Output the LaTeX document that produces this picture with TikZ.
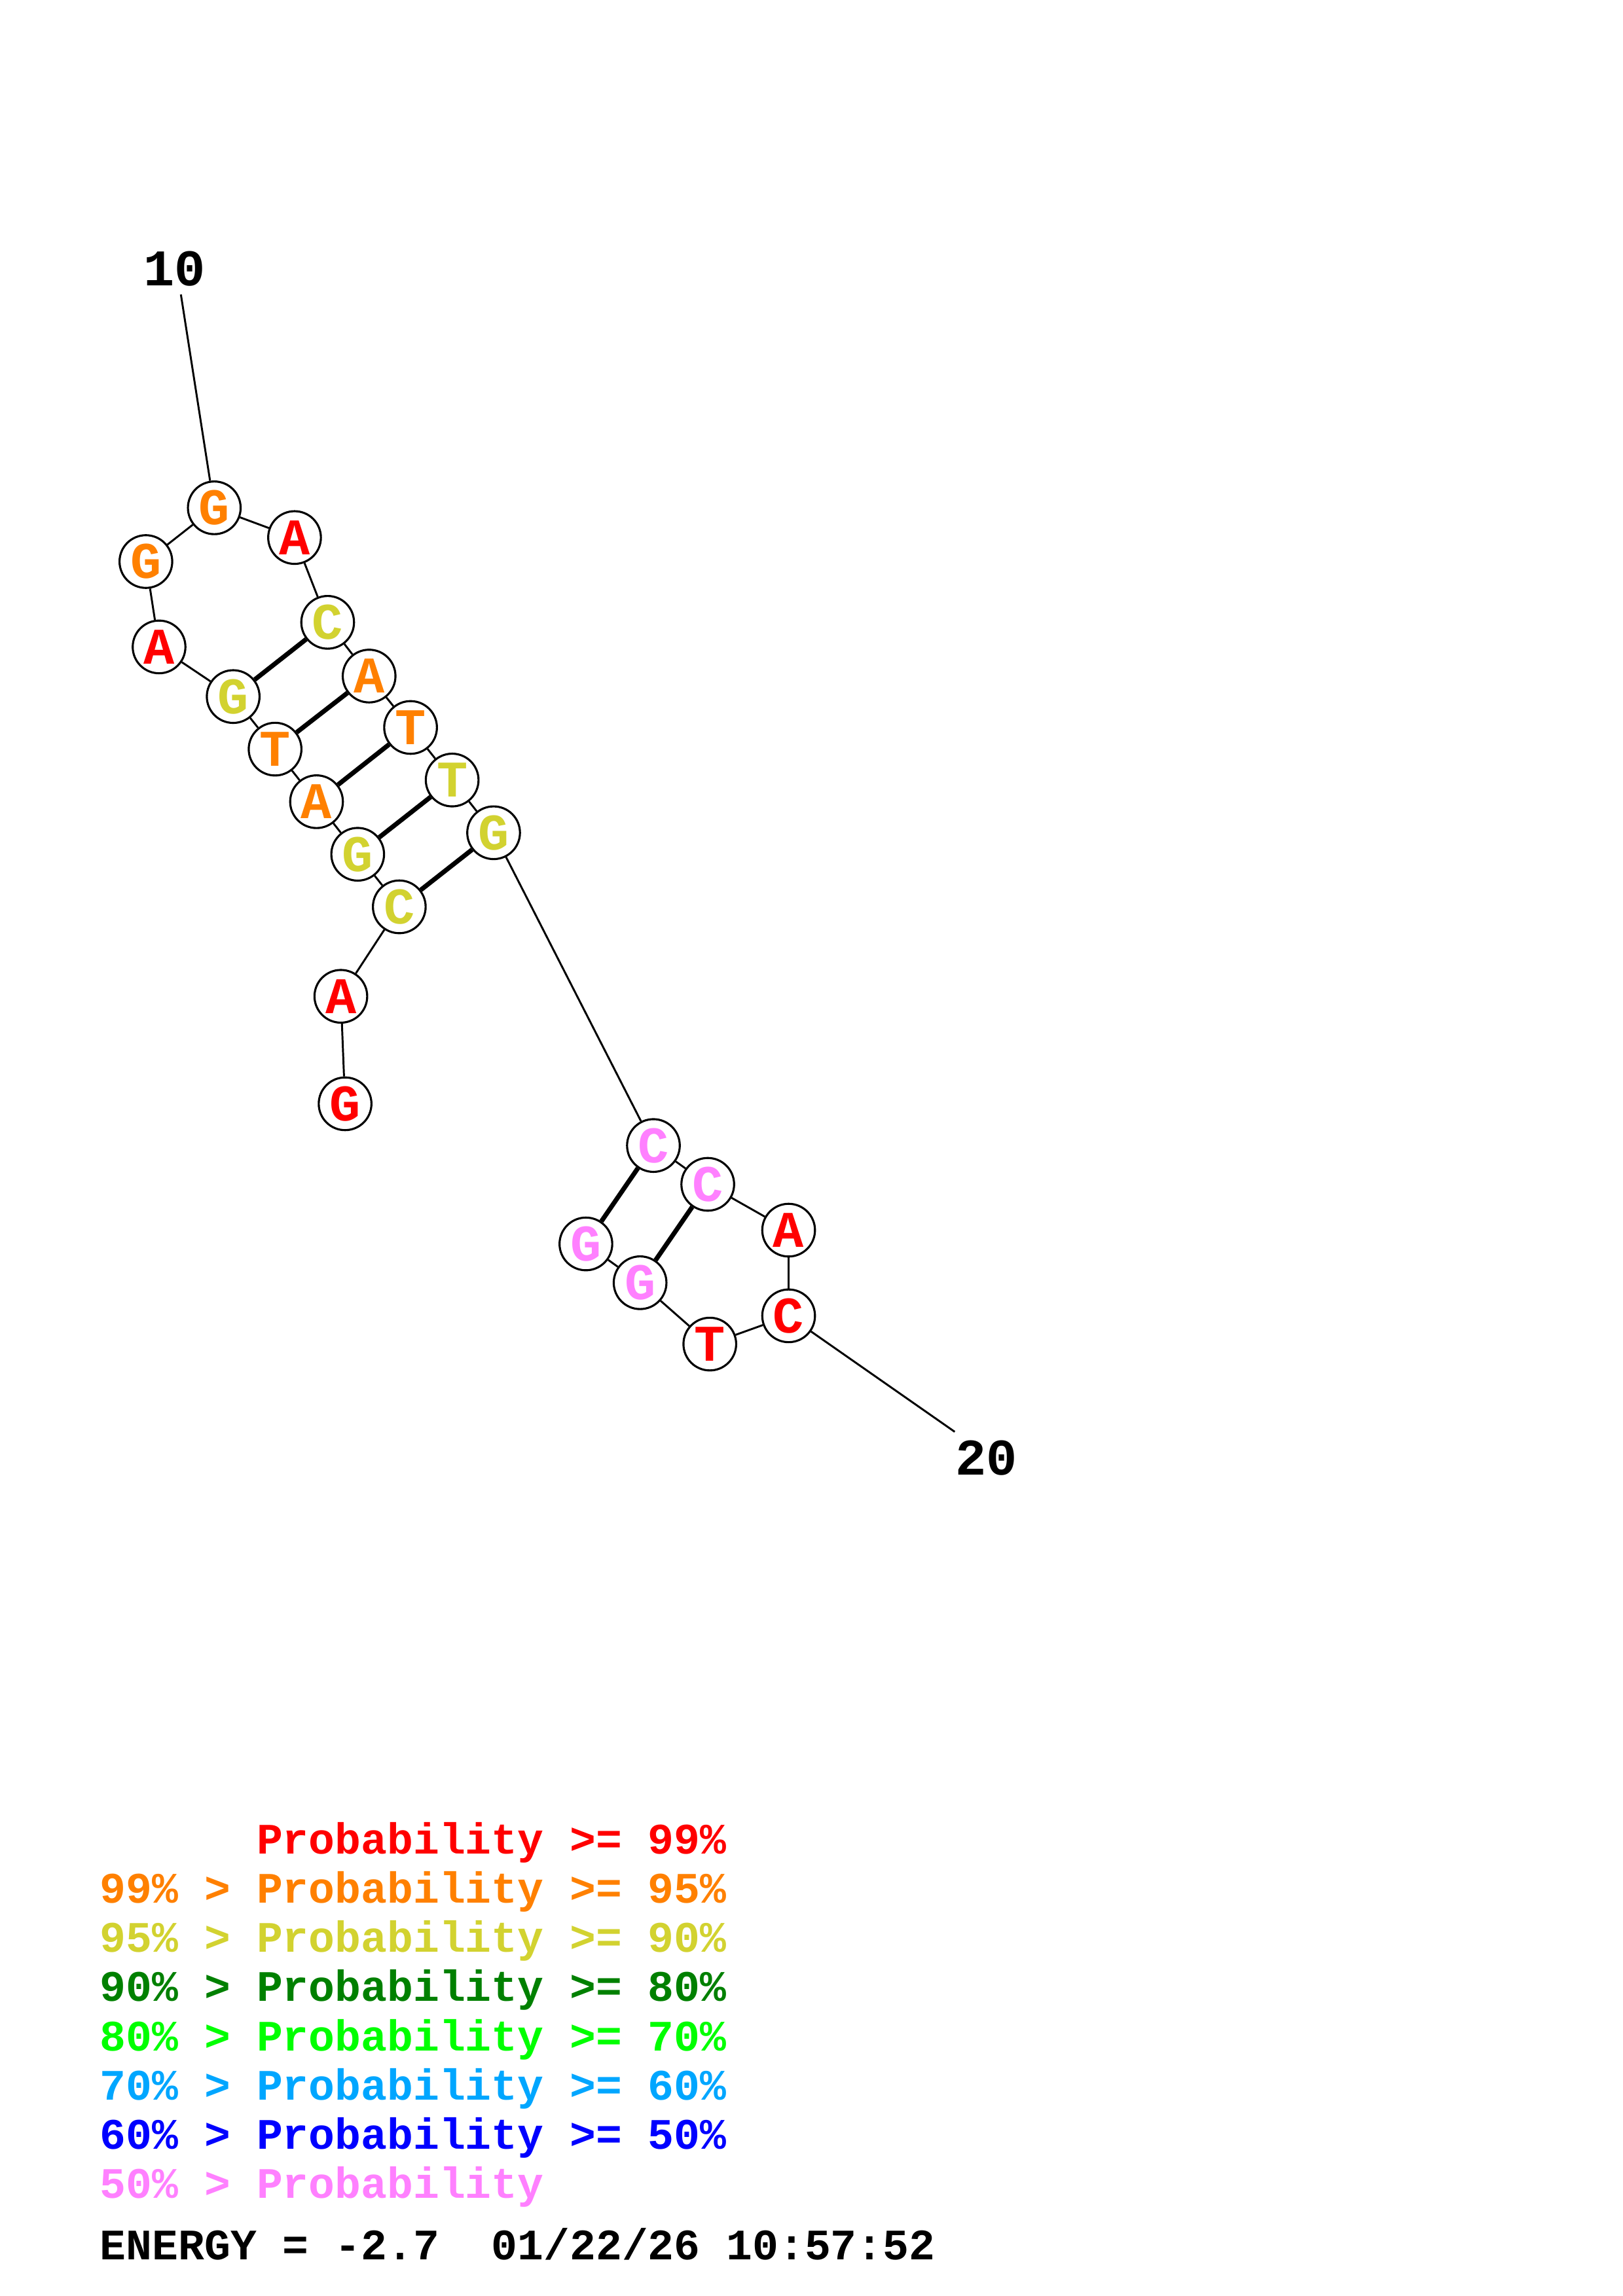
\documentclass[tikz,border=0pt]{standalone}
\usepackage{fontspec}
\newfontfamily\keyfont{Liberation Mono}
\definecolor{pa}{RGB}{255,0,0}
\definecolor{pb}{RGB}{255,128,0}
\definecolor{pc}{RGB}{210,210,48}
\definecolor{pd}{RGB}{0,128,0}
\definecolor{pe}{RGB}{0,255,0}
\definecolor{pf}{RGB}{0,166,255}
\definecolor{pg}{RGB}{0,0,255}
\definecolor{ph}{RGB}{255,128,255}
\begin{document}
\begin{tikzpicture}[x=.02cm,y=-.02cm,
  base/.style={circle,draw,fill=white,line width=.8pt,minimum size=.72cm,inner sep=0pt,
    font=\keyfont\bfseries\fontsize{20}{20}\selectfont},
  numlab/.style={font=\keyfont\bfseries\fontsize{20}{20}\selectfont},
  bb/.style={line width=.75pt},
  pair/.style={line width=1.8pt},
  keyline/.style={anchor=base west,inner sep=0pt,font=\keyfont\bfseries\fontsize{16.9}{16.9}\selectfont}]
  \useasboundingbox (0,0) rectangle (1108,1568);
  % hairpin 1-16
  \node[base,text=pa] (n1) at (235.6,753.8) {G};
  \node[base,text=pa] (n2) at (232.7,680.4) {A};
  \node[base,text=pc] (n3) at (272.6,619.3) {C};
  \node[base,text=pc] (n4) at (244.2,583.4) {G};
  \node[base,text=pb] (n5) at (216.1,547.5) {A};
  \node[base,text=pb] (n6) at (187.8,511.6) {T};
  \node[base,text=pc] (n7) at (159.2,475.7) {G};
  \node[base,text=pa] (n8) at (108.6,441.8) {A};
  \node[base,text=pb] (n9) at (99.6,383.5) {G};
  \node[base,text=pb] (n10) at (146.3,346.8) {G};
  \node[base,text=pa] (n11) at (201.1,367.1) {A};
  \node[base,text=pc] (n12) at (223.7,425) {C};
  \node[base,text=pb] (n13) at (252,461.7) {A};
  \node[base,text=pb] (n14) at (280.3,496.8) {T};
  \node[base,text=pc] (n15) at (308.7,532.7) {T};
  \node[base,text=pc] (n16) at (337,568.7) {G};
  % hairpin 17-23
  \node[base,text=ph] (n17) at (446.1,782.3) {C};
  \node[base,text=ph] (n18) at (483.2,808.8) {C};
  \node[base,text=pa] (n19) at (538.4,840.1) {A};
  \node[base,text=pa] (n20) at (538.4,898.6) {C};
  \node[base,text=pa] (n21) at (484.6,917.9) {T};
  \node[base,text=ph] (n22) at (437,876) {G};
  \node[base,text=ph] (n23) at (400,849.5) {G};
  % backbone and pairs
  \foreach \i [count=\j from 2] in {1,...,22}
    \draw[bb] (n\i)--(n\j);
  \foreach \a/\b in {3/16,4/15,5/14,6/13,7/12,17/23,18/22}
    \draw[pair] (n\a)--(n\b);
  % position labels
  \node[numlab] (l10) at (119.3,183.6) {10};
  \coordinate (t10) at (123.5,201.1);
  \draw[bb] (t10)--(n10);
  \node[numlab] (l20) at (673.4,995.8) {20};
  \coordinate (t20) at (651.8,977.8);
  \draw[bb] (n20)--(t20);
  % key
  \node[keyline,text=pa] (k1) at (68,1266) {\hphantom{99\% > }Probability >= 99\%};
  \node[keyline,text=pb] (k2) at (68,1299.6) {99\% > Probability >= 95\%};
  \node[keyline,text=pc] (k3) at (68,1333.2) {95\% > Probability >= 90\%};
  \node[keyline,text=pd] (k4) at (68,1366.8) {90\% > Probability >= 80\%};
  \node[keyline,text=pe] (k5) at (68,1400.4) {80\% > Probability >= 70\%};
  \node[keyline,text=pf] (k6) at (68,1434) {70\% > Probability >= 60\%};
  \node[keyline,text=pg] (k7) at (68,1467.6) {60\% > Probability >= 50\%};
  \node[keyline,text=ph] (k8) at (68,1501.2) {50\% > Probability};
  \node[keyline] (energy) at (68,1543) {ENERGY = -2.7\ \ 01/22/26 10:57:52};
\end{tikzpicture}
\end{document}
